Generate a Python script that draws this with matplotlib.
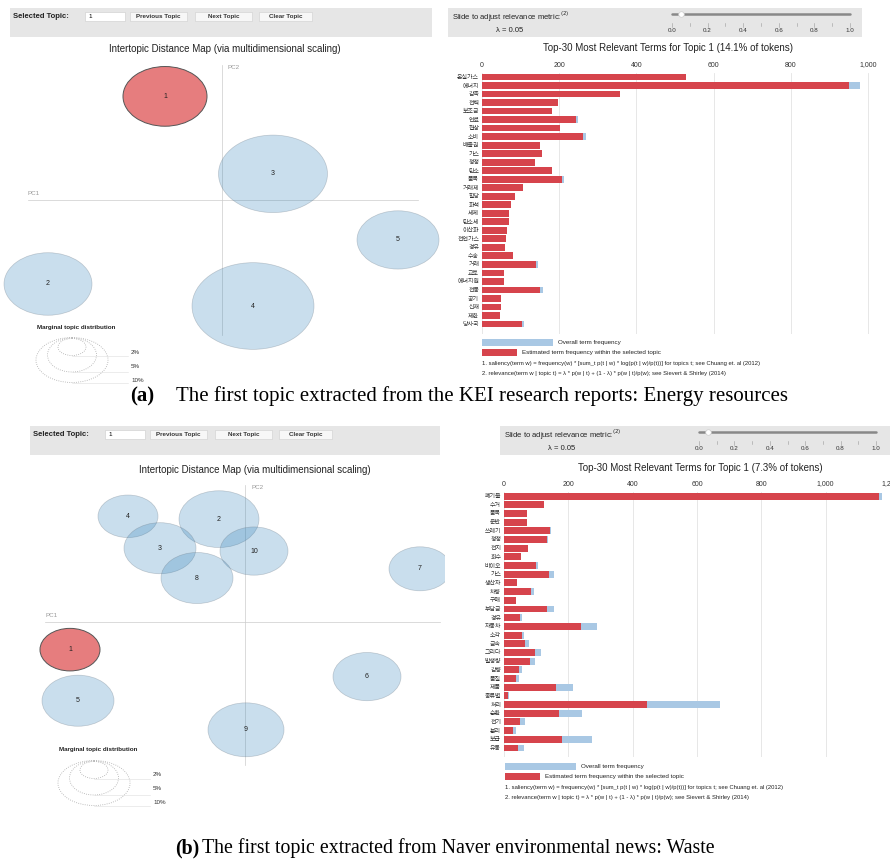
import numpy as np
import matplotlib.pyplot as plt
from matplotlib.patches import Ellipse, Rectangle

plt.rcParams['font.family'] = ['Liberation Sans', 'Noto Sans CJK KR']

W, H = 890, 859

# ---- (a) KEI research reports: topic 1 ----
terms_a = ['온실가스', '에너지', '감축', '전력', '보조금', '연료', '협상', '소비', '배출권', '가스',
           '청정', '탄소', '품목', '거래제', '할당', '화석', '세제', '탄소세', '이산화', '천연가스',
           '경유', '수송', '거래', '교토', '에너지원', '전동', '공기', '신재', '제한', '당사국']
overall_a = [528, 980, 358, 196, 182, 249, 203, 269, 149, 155,
             136, 181, 212, 106, 86, 75, 70, 69, 65, 63,
             60, 80, 144, 58, 56, 159, 48, 50, 46, 109]
topic_a = [528, 950, 358, 196, 182, 244, 203, 262, 149, 155,
           136, 180, 206, 106, 86, 75, 70, 69, 65, 63,
           60, 80, 140, 58, 56, 151, 48, 50, 46, 104]
ids_a = [1, 3, 5, 2, 4]
pc1_a = [-0.57, 0.51, 1.76, -1.74, 0.31]
pc2_a = [1.46, 0.37, -0.56, -1.18, -1.49]
size_a = [0.84, 1.09, 0.82, 0.88, 1.22]

# ---- (b) Naver environmental news: topic 1 ----
terms_b = ['폐기물', '수거', '품목', '운반', '쓰레기', '청정', '전지', '회수', '바이오', '가스',
           '생산자', '차량', '구매', '부담금', '경유', '자동차', '소각', '금속', '그리다', '발생량',
           '감량', '품질', '제품', '종류별', '처리', '순환', '전기', '분리', '보급', '유통']
overall_b = [1176, 123, 73, 70, 145, 137, 76, 54, 107, 154,
             41, 93, 36, 155, 56, 288, 63, 78, 114, 97,
             57, 46, 215, 16, 672, 244, 65, 38, 273, 62]
topic_b = [1166, 123, 73, 70, 142, 135, 76, 54, 99, 140,
           41, 84, 36, 133, 51, 239, 56, 66, 95, 82,
           48, 37, 163, 13, 446, 170, 49, 29, 181, 44]
ids_b = [4, 2, 3, 10, 8, 7, 1, 6, 5, 9]
pc1_b = [-1.17, -0.26, -0.85, 0.09, -0.48, 1.75, -1.75, 1.22, -1.67, 0.01]
pc2_b = [1.49, 1.45, 1.04, 1.00, 0.62, 0.75, -0.39, -0.77, -1.11, -1.52]
size_b = [0.60, 0.80, 0.72, 0.68, 0.72, 0.62, 0.60, 0.68, 0.72, 0.76]

BLUE = '#a9c8e4'
RED = '#d6444c'
CIRC = (0.12, 0.47, 0.71, 0.24)
SEL = '#e67d7e'

fig = plt.figure(figsize=(W / 100, H / 100), dpi=100)
fig.patch.set_facecolor('white')


def ax_at(x0, y0, x1, y1, z=1):
    return fig.add_axes([x0 / W, 1 - y1 / H, (x1 - x0) / W, (y1 - y0) / H], zorder=z)


# background axes in pixel coordinates for the widget chrome
bg = ax_at(0, 0, W, H, z=0)
bg.set_xlim(0, W)
bg.set_ylim(H, 0)
bg.axis('off')


def topic_bar(dx, dy, w):
    bg.add_patch(Rectangle((dx, dy), w, 29, color='#e6e6e6', lw=0))
    bg.text(dx + 3, dy + 8, 'Selected Topic:', fontsize=5.5, fontweight='bold', va='center', color='#222')
    bg.add_patch(Rectangle((dx + 75, dy + 4), 40, 9, facecolor='white', edgecolor='#cccccc', lw=0.4))
    bg.text(dx + 78, dy + 8.5, '1', fontsize=4.5, va='center')
    for bx, bw, lab in [(120, 57, 'Previous Topic'), (185, 57, 'Next Topic'), (249, 53, 'Clear Topic')]:
        bg.add_patch(Rectangle((dx + bx, dy + 4), bw, 9, facecolor='#f7f7f7', edgecolor='#cfcfcf', lw=0.4))
        bg.text(dx + bx + bw / 2, dy + 8.5, lab, fontsize=4.5, fontweight='bold', ha='center', va='center', color='#333')


def slider_bar(dx, dy, w, sx0, sx1):
    bg.add_patch(Rectangle((dx, dy), w, 29, color='#e6e6e6', lw=0))
    bg.text(dx + 4, dy + 9, 'Slide to adjust relevance metric:$^{(2)}$', fontsize=5.5, va='center', color='#222')
    bg.text(dx + 62, dy + 23, 'λ = 0.05', fontsize=5.5, ha='center', va='center', color='#222')
    knob = sx0 + 0.05 * (sx1 - sx0)
    bg.plot([sx0, knob - 3], [dy + 6, dy + 6], color='#888888', lw=1.8, solid_capstyle='round')
    bg.plot([knob + 3, sx1], [dy + 6, dy + 6], color='#888888', lw=1.8, solid_capstyle='round')
    bg.plot(knob, dy + 6, 'o', ms=4, mfc='white', mec='#cccccc', mew=0.5)
    for k in range(11):
        tx = sx0 + k * (sx1 - sx0) / 10
        bg.plot([tx, tx], [dy + 15, dy + 18 if k % 2 else dy + 19], color='#999999', lw=0.4)
        if k % 2 == 0:
            bg.text(tx, dy + 23, '%.1f' % (k / 10), fontsize=4.5, ha='center', va='center', color='#333')


def marginal_legend(dx, dy):
    bg.text(dx + 37, dy + 327, 'Marginal topic distribution', fontsize=4.5, fontweight='bold', va='center', color='#222')
    for cx, cy, ew, eh, ly, lab in [(72, 347, 28, 17, 352, '2%'), (72, 355, 49, 34, 366, '5%'), (72, 360, 72, 45, 380, '10%')]:
        bg.add_patch(Ellipse((dx + cx, dy + cy), ew, eh, fill=False, edgecolor='#aaaaaa', lw=0.6, ls=':'))
        bg.plot([dx + cx, dx + 128], [dy + cy + eh / 2, dy + cy + eh / 2], color='#dddddd', lw=0.4)
        bg.text(dx + 131, dy + ly, lab, fontsize=4.5, va='center', color='#333')


def topic_map(box, xlim, ylim, pcx, pcy, pc1, pc2, size, ids):
    ax = ax_at(*box)
    ax.set_xlim(*xlim)
    ax.set_ylim(*ylim)
    ax.axis('off')
    ax.plot(pcx, [0, 0], color='#cccccc', lw=0.5, zorder=1)
    ax.plot([0, 0], pcy, color='#cccccc', lw=0.5, zorder=1)
    ax.text(pcx[0], 0.07, 'PC1', fontsize=4.5, color='#999999')
    ax.text(0.06, pcy[1], 'PC2', fontsize=4.5, color='#999999', va='top')
    for t, x, y, d in zip(ids, pc1, pc2, size):
        if t == 1:
            ax.add_patch(Ellipse((x, y), d, d, facecolor=SEL, edgecolor='#555555', lw=0.7, zorder=3))
        else:
            ax.add_patch(Ellipse((x, y), d, d, facecolor=CIRC, edgecolor=(0.4, 0.45, 0.5, 0.35), lw=0.5, zorder=2))
        ax.text(x, y, str(t), fontsize=5, ha='center', va='center', color='#222', zorder=4)
    return ax


def term_bars(box, xmax, terms, overall, topic, ticks, ticklabels, ylo):
    ax = ax_at(*box)
    y = np.arange(len(terms))
    ax.barh(y, overall, height=0.8, color=BLUE, zorder=2)
    ax.barh(y, topic, height=0.8, color=RED, zorder=3)
    ax.set_xlim(0, xmax)
    ax.set_ylim(ylo, -0.5)
    ax.set_yticks(y)
    ax.set_yticklabels(terms, fontsize=4.3, color='#333')
    ax.set_xticks(ticks)
    ax.set_xticklabels(ticklabels, fontsize=5, color='#333')
    ax.xaxis.tick_top()
    ax.tick_params(length=0, pad=3)
    ax.tick_params(axis='y', pad=2)
    ax.grid(axis='x', color='#e3e3e3', lw=0.6, zorder=0)
    for s in ax.spines.values():
        s.set_visible(False)
    return ax


def bar_legend(dx, dy):
    bg.add_patch(Rectangle((dx, dy), 71, 7, color=BLUE, lw=0))
    bg.text(dx + 76, dy + 3.5, 'Overall term frequency', fontsize=4.5, va='center', color='#222')
    bg.add_patch(Rectangle((dx, dy + 10), 35, 7, color=RED, lw=0))
    bg.text(dx + 40, dy + 13.5, 'Estimated term frequency within the selected topic', fontsize=4.5, va='center', color='#222')
    bg.text(dx, dy + 25, '1. saliency(term w) = frequency(w) * [sum_t p(t | w) * log(p(t | w)/p(t))] for topics t; see Chuang et. al (2012)',
            fontsize=4.2, va='center', color='#222')
    bg.text(dx, dy + 34, '2. relevance(term w | topic t) = λ * p(w | t) + (1 - λ) * p(w | t)/p(w); see Sievert & Shirley (2014)',
            fontsize=4.2, va='center', color='#222')


# ===== panel (a) =====
topic_bar(10, 8, 422)
slider_bar(448, 8, 414, 672, 850)
bg.text(225, 49, 'Intertopic Distance Map (via multidimensional scaling)', fontsize=7, ha='center', va='center', color='#222')
bg.text(668, 48, 'Top-30 Most Relevant Terms for Topic 1 (14.1% of tokens)', fontsize=7, ha='center', va='center', color='#222')
topic_map((0, 58, 440, 392), (-2.22, 2.18), (-2.70, 2.0), [-1.94, 1.96], [-1.90, 1.90],
          pc1_a, pc2_a, size_a, ids_a)
marginal_legend(0, 0)
term_bars((482, 72.7, 872, 334.3), 1010, terms_a, overall_a, topic_a,
          [0, 200, 400, 600, 800, 1000], ['0', '200', '400', '600', '800', '1,000'], 30.2)
bar_legend(482, 339)
bg.text(130, 396, '(a)', fontsize=15, fontweight='bold', family='Liberation Serif', va='center')
bg.text(176, 396, 'The first topic extracted from the KEI research reports: Energy resources',
        fontsize=15, family='Liberation Serif', va='center')

# ===== panel (b) =====
topic_bar(30, 426, 410)
slider_bar(500, 426, 390, 699, 876)
bg.text(255, 470, 'Intertopic Distance Map (via multidimensional scaling)', fontsize=7, ha='center', va='center', color='#222')
bg.text(700, 468, 'Top-30 Most Relevant Terms for Topic 1 (7.3% of tokens)', fontsize=7, ha='center', va='center', color='#222')
topic_map((0, 478, 445, 822), (-2.45, 2.00), (-2.82, 2.03), [-2.00, 1.95], [-2.01, 1.93],
          pc1_b, pc2_b, size_b, ids_b)
marginal_legend(22, 423)
term_bars((504, 491.7, 890, 756.7), 1200, terms_b, overall_b, topic_b,
          [0, 200, 400, 600, 800, 1000, 1200], ['0', '200', '400', '600', '800', '1,000', '1,200'], 30.0)
bar_legend(505, 763)
bg.text(175, 848, '(b)', fontsize=14.3, fontweight='bold', family='Liberation Serif', va='center')
bg.text(202, 848, 'The first topic extracted from Naver environmental news: Waste',
        fontsize=14.3, family='Liberation Serif', va='center')

fig.savefig('out.png', dpi=100)
